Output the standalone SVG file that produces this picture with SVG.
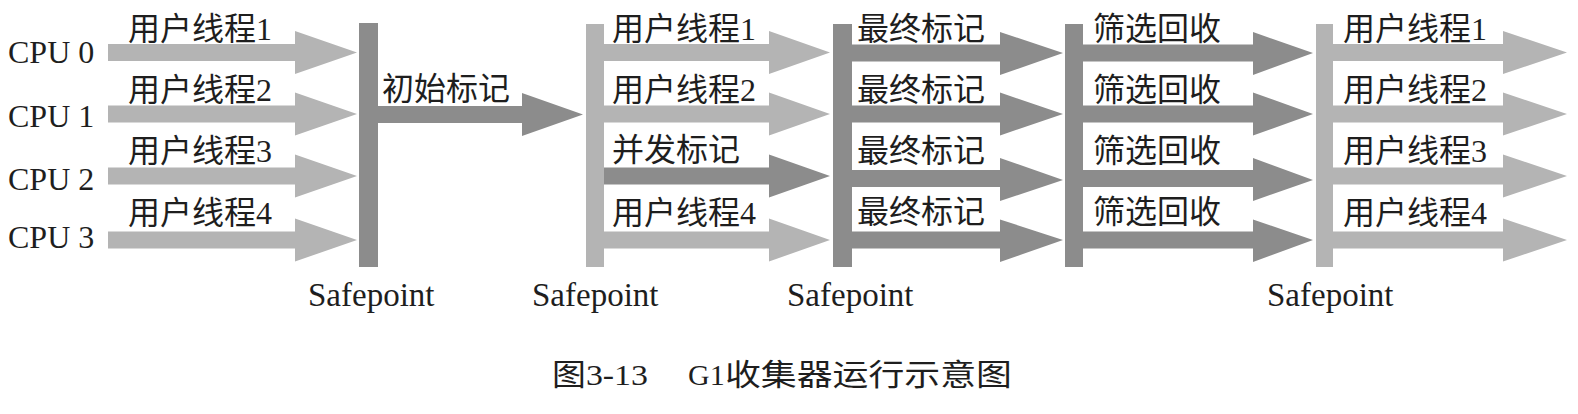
<svg xmlns="http://www.w3.org/2000/svg" width="1578" height="414" viewBox="0 0 1578 414">
<style>
.light{fill:#b4b4b4}
.dark{fill:#8c8c8c}
.t{font-family:"Liberation Serif","Noto Sans CJK SC",serif;fill:#1e1e1e}
.lbl{font-size:32px}
.cpu{font-size:32px}
.sp{font-size:33px}
.cap{font-size:30px}
</style>
<rect width="1578" height="414" fill="#ffffff"/>
<g id="connectors">
  <!-- stage 1: user threads -->
  <polygon class="light" points="108,44 295,44 295,31 357,52.5 295,74 295,61 108,61"/>
  <polygon class="light" points="108,105.5 295,105.5 295,92.5 357,114 295,135.5 295,122.5 108,122.5"/>
  <polygon class="light" points="108,167.5 295,167.5 295,154.5 357,176 295,197.5 295,184.5 108,184.5"/>
  <polygon class="light" points="108,231.5 295,231.5 295,218.5 357,240 295,261.5 295,248.5 108,248.5"/>
  <!-- initial mark -->
  <polygon class="dark" points="378,106 522,106 522,93 583,114.5 522,136 522,123 378,123"/>
  <!-- stage 2 -->
  <polygon class="light" points="604,44 769,44 769,31 830,52.5 769,74 769,61 604,61"/>
  <polygon class="light" points="604,105.5 769,105.5 769,92.5 830,114 769,135.5 769,122.5 604,122.5"/>
  <polygon class="dark" points="604,167.5 769,167.5 769,154.5 830,176 769,197.5 769,184.5 604,184.5"/>
  <polygon class="light" points="604,231.5 769,231.5 769,218.5 830,240 769,261.5 769,248.5 604,248.5"/>
  <!-- stage 3: final mark -->
  <polygon class="dark" points="852,44.5 1000,44.5 1000,32 1063,53 1000,75 1000,61.5 852,61.5"/>
  <polygon class="dark" points="852,105.5 1000,105.5 1000,92.5 1063,114 1000,135.5 1000,122.5 852,122.5"/>
  <polygon class="dark" points="852,170 1000,170 1000,158 1063,180 1000,201 1000,187 852,187"/>
  <polygon class="dark" points="852,231.5 1000,231.5 1000,219.5 1063,240 1000,262 1000,248.5 852,248.5"/>
  <!-- stage 4 -->
  <polygon class="dark" points="1083,44.5 1253,44.5 1253,32 1313,53 1253,75 1253,61.5 1083,61.5"/>
  <polygon class="dark" points="1083,105.5 1253,105.5 1253,92.5 1313,114 1253,135.5 1253,122.5 1083,122.5"/>
  <polygon class="dark" points="1083,170 1253,170 1253,158 1313,180 1253,201 1253,187 1083,187"/>
  <polygon class="dark" points="1083,231.5 1253,231.5 1253,219.5 1313,240 1253,262 1253,248.5 1083,248.5"/>
  <!-- stage 5 -->
  <polygon class="light" points="1333,44 1503,44 1503,31 1567,52.5 1503,74 1503,61 1333,61"/>
  <polygon class="light" points="1333,105.5 1503,105.5 1503,92.5 1567,114 1503,135.5 1503,122.5 1333,122.5"/>
  <polygon class="light" points="1333,167.5 1503,167.5 1503,154.5 1567,176 1503,197.5 1503,184.5 1333,184.5"/>
  <polygon class="light" points="1333,231.5 1503,231.5 1503,218.5 1567,240 1503,261.5 1503,248.5 1333,248.5"/>
</g>
<g id="safepoint-1"><rect class="dark" x="359" y="23" width="19" height="244"/><text class="t sp" x="308" y="306">Safepoint</text></g>
<g id="safepoint-2"><rect class="light" x="586" y="24" width="18" height="243"/><text class="t sp" x="532" y="306">Safepoint</text></g>
<g id="safepoint-3"><rect class="dark" x="833" y="24" width="19" height="243"/><text class="t sp" x="787" y="306">Safepoint</text></g>
<g id="barrier-4"><rect class="dark" x="1065" y="24" width="18" height="243"/></g>
<g id="safepoint-5"><rect class="light" x="1316" y="24" width="17" height="243"/><text class="t sp" x="1267" y="306">Safepoint</text></g>
<g id="cpu-labels">
  <text class="t cpu" x="8" y="63">CPU 0</text>
  <text class="t cpu" x="8" y="127">CPU 1</text>
  <text class="t cpu" x="8" y="190">CPU 2</text>
  <text class="t cpu" x="8" y="248">CPU 3</text>
</g>
<g id="labels">
  <text class="t lbl" x="128" y="40">用户线程1</text>
  <text class="t lbl" x="128" y="101">用户线程2</text>
  <text class="t lbl" x="128" y="162">用户线程3</text>
  <text class="t lbl" x="128" y="224">用户线程4</text>
  <text class="t lbl" x="382" y="100">初始标记</text>
  <text class="t lbl" x="612" y="40">用户线程1</text>
  <text class="t lbl" x="612" y="101">用户线程2</text>
  <text class="t lbl" x="612" y="161">并发标记</text>
  <text class="t lbl" x="612" y="224">用户线程4</text>
  <text class="t lbl" x="857" y="40">最终标记</text>
  <text class="t lbl" x="857" y="101">最终标记</text>
  <text class="t lbl" x="857" y="162">最终标记</text>
  <text class="t lbl" x="857" y="223">最终标记</text>
  <text class="t lbl" x="1093" y="40">筛选回收</text>
  <text class="t lbl" x="1093" y="101">筛选回收</text>
  <text class="t lbl" x="1093" y="162">筛选回收</text>
  <text class="t lbl" x="1093" y="223">筛选回收</text>
  <text class="t lbl" x="1343" y="40">用户线程1</text>
  <text class="t lbl" x="1343" y="101">用户线程2</text>
  <text class="t lbl" x="1343" y="162">用户线程3</text>
  <text class="t lbl" x="1343" y="224">用户线程4</text>
</g>
<g id="caption">
  <text class="t cap" x="552" y="385" textLength="96" lengthAdjust="spacingAndGlyphs">图3-13</text>
  <text class="t cap" x="688" y="385">G1</text>
  <text class="t cap" x="725" y="385" textLength="287" lengthAdjust="spacingAndGlyphs">收集器运行示意图</text>
</g>
</svg>
